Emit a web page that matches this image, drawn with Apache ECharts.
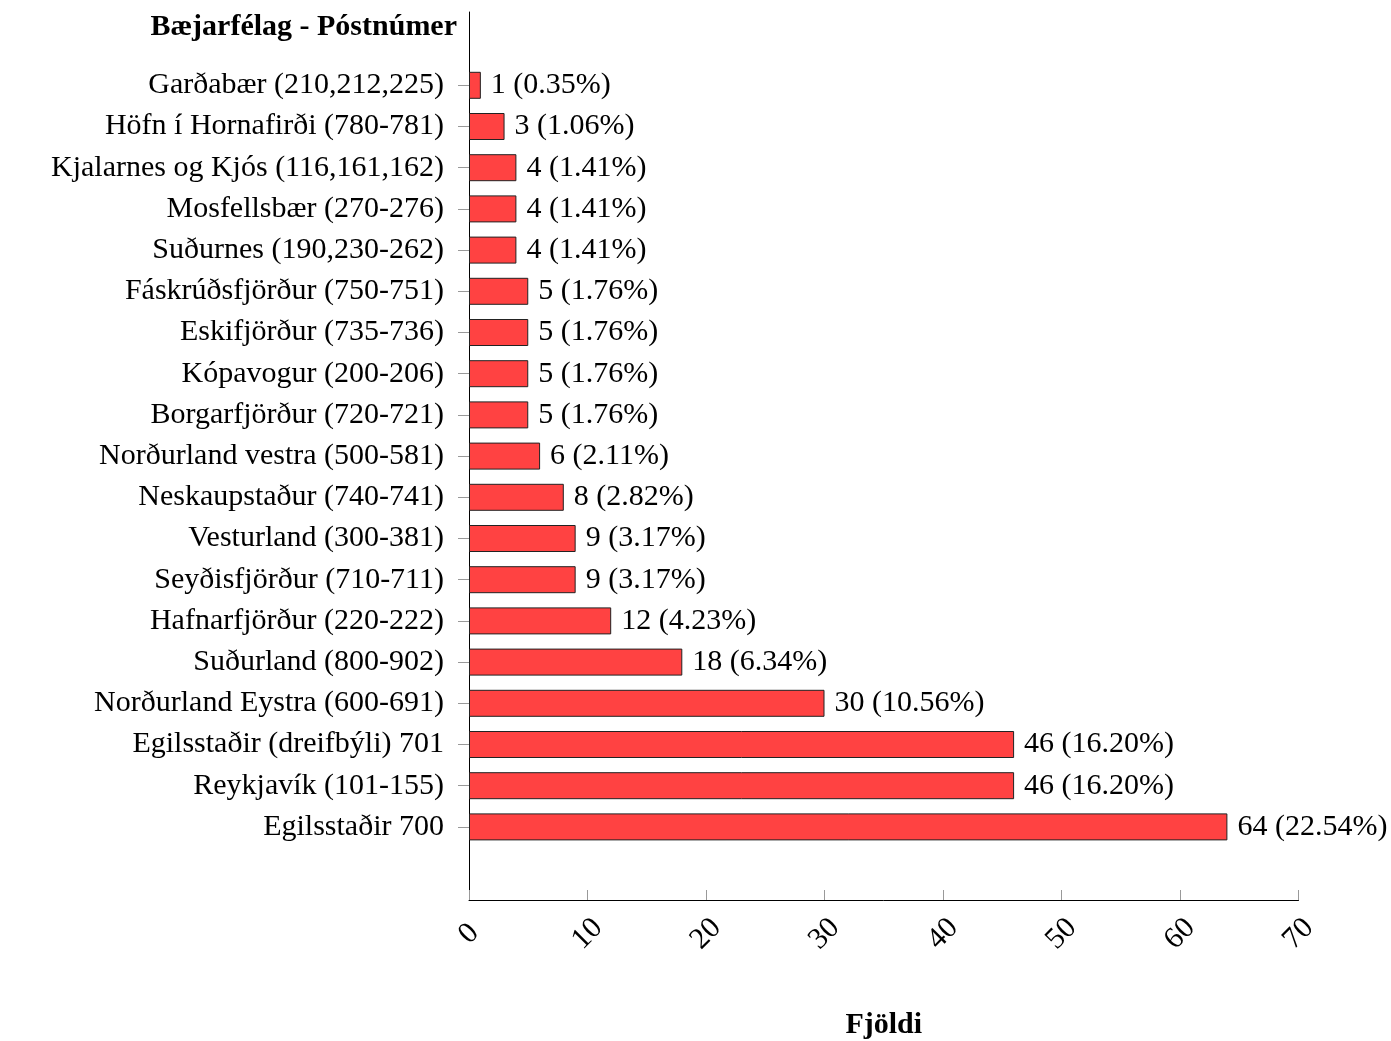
<!DOCTYPE html>
<html>
<head>
<meta charset="utf-8">
<script src="https://cdn.jsdelivr.net/npm/echarts@6/dist/echarts.min.js"></script>
<style>html,body{margin:0;padding:0;background:#fff}#c{width:1391px;height:1041px}</style>
</head>
<body>
<div id="c"></div>
<script>
const categories = [
  'Garðabær (210,212,225)',
  'Höfn í Hornafirði (780-781)',
  'Kjalarnes og Kjós (116,161,162)',
  'Mosfellsbær (270-276)',
  'Suðurnes (190,230-262)',
  'Fáskrúðsfjörður (750-751)',
  'Eskifjörður (735-736)',
  'Kópavogur (200-206)',
  'Borgarfjörður (720-721)',
  'Norðurland vestra (500-581)',
  'Neskaupstaður (740-741)',
  'Vesturland (300-381)',
  'Seyðisfjörður (710-711)',
  'Hafnarfjörður (220-222)',
  'Suðurland (800-902)',
  'Norðurland Eystra (600-691)',
  'Egilsstaðir (dreifbýli) 701',
  'Reykjavík (101-155)',
  'Egilsstaðir 700'
];
const counts = [1, 3, 4, 4, 4, 5, 5, 5, 5, 6, 8, 9, 9, 12, 18, 30, 46, 46, 64];
const percents = [0.35, 1.06, 1.41, 1.41, 1.41, 1.76, 1.76, 1.76, 1.76, 2.11, 2.82, 3.17, 3.17, 4.23, 6.34, 10.56, 16.20, 16.20, 22.54];
const xTicks = { min: 0, max: 70, interval: 10 };
const yTitle = 'Bæjarfélag - Póstnúmer';
const xTitle = 'Fjöldi';

const FONT = 'Liberation Serif';
const FS = 30;
const chart = echarts.init(document.getElementById('c'), null, { renderer: 'canvas' });
chart.setOption({
  animation: false,
  backgroundColor: '#fff',
  textStyle: { fontFamily: FONT },
  grid: [
    { left: 469, right: 92.5, top: 64.7, bottom: 193.5, containLabel: false, outerBoundsMode: 'none' },
    { left: 469, right: 92.5, top: 12, bottom: 141, containLabel: false, outerBoundsMode: 'none' }
  ],
  xAxis: [
    { gridIndex: 0, type: 'value', min: xTicks.min, max: xTicks.max, interval: xTicks.interval, show: false },
    {
      gridIndex: 1, type: 'value', min: xTicks.min, max: xTicks.max, interval: xTicks.interval,
      name: xTitle, nameLocation: 'middle', nameGap: 110,
      nameTextStyle: { fontFamily: FONT, fontSize: FS, fontWeight: 'bold', color: '#000' },
      axisLine: { show: true, lineStyle: { color: '#000', width: 1 } },
      axisTick: { show: true, inside: true, length: 10, lineStyle: { color: '#999', width: 1 } },
      splitLine: { show: false },
      axisLabel: {
        rotate: 45, margin: 34, align: 'center', verticalAlign: 'middle',
        fontFamily: FONT, fontSize: FS, color: '#000'
      }
    }
  ],
  yAxis: [
    {
      gridIndex: 0, type: 'category', data: categories, inverse: true,
      axisLine: { show: false },
      axisTick: { show: true, alignWithLabel: true, length: 11, lineStyle: { color: '#999', width: 1 } },
      axisLabel: { margin: 25, fontFamily: FONT, fontSize: FS, color: '#000' },
      splitLine: { show: false }
    },
    {
      gridIndex: 1, type: 'value', min: 0, max: 1,
      name: yTitle, nameLocation: 'end', nameGap: -15,
      nameTextStyle: { fontFamily: FONT, fontSize: FS, fontWeight: 'bold', color: '#000', align: 'right', verticalAlign: 'middle', padding: [0, 12, 0, 0] },
      axisLine: { show: true, lineStyle: { color: '#000', width: 1 } },
      axisTick: { show: false }, axisLabel: { show: false }, splitLine: { show: false }
    }
  ],
  series: [{
    type: 'bar',
    xAxisIndex: 0, yAxisIndex: 0,
    data: counts,
    barWidth: 27,
    itemStyle: { color: '#FF4242', borderColor: '#222', borderWidth: 1 },
    label: {
      show: true, position: 'right', distance: 10,
      fontFamily: FONT, fontSize: FS, color: '#000',
      formatter: p => counts[p.dataIndex] + ' (' + percents[p.dataIndex].toFixed(2) + '%)'
    }
  }]
});
</script>
</body>
</html>
